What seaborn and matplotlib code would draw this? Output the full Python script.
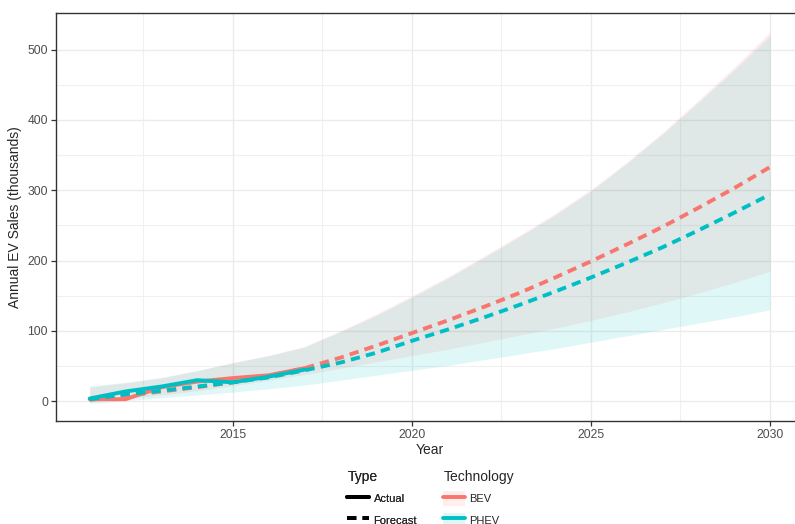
import numpy as np
import pandas as pd
import matplotlib.pyplot as plt
import seaborn as sns
from matplotlib.lines import Line2D
from matplotlib.patches import Patch

# ---- data ----
years_actual = [2011, 2012, 2013, 2014, 2015, 2016, 2017]
bev_actual = [3, 3, 20, 28, 33, 37, 47]
phev_actual = [4, 14, 21, 30, 27, 35, 45]

years_fc = list(range(2011, 2031))
bev_fc = [2, 8, 14, 20, 27, 36, 47, 62, 79, 97, 115, 134, 154, 176, 199,
          223, 248, 275, 303, 333]
phev_fc = [3, 10, 15, 21, 27, 34, 44, 55, 69, 86, 102, 119, 137, 156, 176,
           197, 219, 243, 268, 294]

bev_lo = [0, 4, 9, 15, 22, 30, 38, 47, 56, 65, 74, 84, 94, 104, 115,
          127, 140, 154, 169, 185]
bev_hi = [20, 26, 33, 43, 55, 65, 78, 100, 124, 150, 177, 206, 236, 267, 301,
          340, 382, 428, 475, 525]
phev_lo = [-3, 1, 5, 9, 13, 18, 23, 30, 37, 44, 51, 59, 67, 75, 84,
           93, 102, 111, 120, 130]
phev_hi = [22, 27, 34, 44, 55, 65, 77, 99, 122, 148, 175, 204, 234, 265, 299,
           338, 380, 425, 471, 520]

colors = {"BEV": "#F8766D", "PHEV": "#00BFC4"}

df = pd.concat([
    pd.DataFrame({"Year": years_actual, "Sales": bev_actual, "Technology": "BEV", "Type": "Actual"}),
    pd.DataFrame({"Year": years_actual, "Sales": phev_actual, "Technology": "PHEV", "Type": "Actual"}),
    pd.DataFrame({"Year": years_fc, "Sales": bev_fc, "Technology": "BEV", "Type": "Forecast"}),
    pd.DataFrame({"Year": years_fc, "Sales": phev_fc, "Technology": "PHEV", "Type": "Forecast"}),
], ignore_index=True)

sns.set_theme(style="whitegrid")
plt.rcParams['font.family'] = ['Liberation Sans', 'DejaVu Sans']

fig = plt.figure(figsize=(7.95, 5.24), dpi=100)
ax = fig.add_axes([55.7 / 795, 1 - 421 / 524, (804 - 55.7) / 795, 408 / 524])

# prediction bands
ax.fill_between(years_fc, bev_lo, bev_hi, color=colors["BEV"], alpha=0.13, lw=0)
ax.fill_between(years_fc, phev_lo, phev_hi, color=colors["PHEV"], alpha=0.12, lw=0)

sns.lineplot(data=df, x="Year", y="Sales", hue="Technology", style="Type",
             palette=colors, dashes={"Actual": "", "Forecast": (2.4, 1.6)},
             linewidth=2.8, legend=False, ax=ax, sort=True, estimator=None)

ax.set_xlim(2010.05, 2030.95)
ax.set_ylim(-28, 552)
ax.set_xticks([2015, 2020, 2025, 2030])
ax.set_xticks([2012.5, 2017.5, 2022.5, 2027.5], minor=True)
ax.set_yticks([0, 100, 200, 300, 400, 500])
ax.set_yticks([50, 150, 250, 350, 450], minor=True)
ax.grid(True, which="major", color="#EBEBEB", lw=1.0)
ax.grid(True, which="minor", color="#F0F0F0", lw=0.8)
ax.set_axisbelow(True)
for s in ax.spines.values():
    s.set_color("#333333")
    s.set_linewidth(1.0)
ax.tick_params(axis="both", which="major", length=3.5, width=0.9, color="#333333",
               labelsize=8.7, labelcolor="#4D4D4D", pad=2, direction="out")
ax.tick_params(axis="both", which="minor", length=0)
ax.tick_params(left=True, bottom=True)
ax.set_xlabel("Year", fontsize=10, labelpad=2)
ax.set_ylabel("Annual EV Sales (thousands)", fontsize=10, labelpad=4)

# legends below the panel
leg_kw = dict(loc="upper left", frameon=False, fontsize=8, title_fontsize=10,
              alignment="left", handlelength=1.9, handleheight=1.7,
              handletextpad=0.45, labelspacing=0.6, borderaxespad=0)

type_handles = [Line2D([], [], color="black", lw=2.8),
                Line2D([], [], color="black", lw=2.8, dashes=(2.4, 1.6))]
leg1 = fig.legend(type_handles, ["Actual", "Forecast"], title="Type",
                  bbox_to_anchor=(343 / 795, 1 - 466 / 524), **leg_kw)
fig.add_artist(leg1)

tech_handles = [(Patch(facecolor=colors[k], alpha=0.12, lw=0),
                 Line2D([], [], color=colors[k], lw=2.8)) for k in ["BEV", "PHEV"]]
fig.legend(tech_handles, ["BEV", "PHEV"], title="Technology",
           bbox_to_anchor=(439 / 795, 1 - 466 / 524), **leg_kw)

fig.savefig("out.png", dpi=100)
